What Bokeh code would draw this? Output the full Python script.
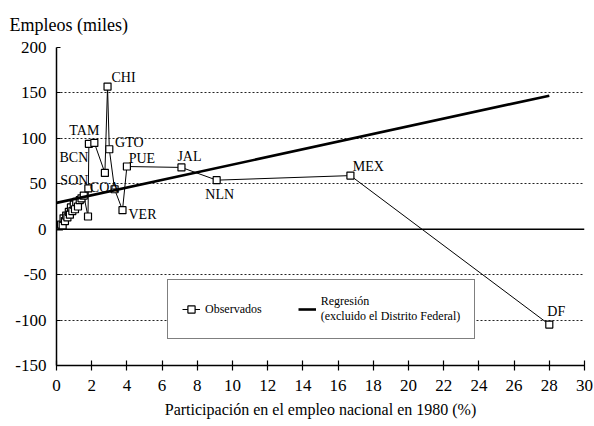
from bokeh.plotting import figure
from bokeh.models import (ColumnDataSource, Span, Legend, LegendItem, FixedTicker,
                          PrintfTickFormatter)
from bokeh.core.properties import value
from bokeh.embed import file_html
from bokeh.resources import INLINE

# ---- data ----
states = ["", "", "", "", "", "", "", "", "", "", "", "", "", "", "", "", "", "",
          "", "SON", "BCN", "TAM", "", "CHI", "GTO", "COA", "VER", "PUE", "JAL",
          "NLN", "MEX", "DF"]
share = [0.15, 0.25, 0.35, 0.40, 0.48, 0.55, 0.62, 0.70, 0.76, 0.82, 0.90, 0.98,
         1.05, 1.12, 1.22, 1.32, 1.42, 1.55,
         1.79, 1.81, 1.84, 2.15, 2.75, 2.90, 3.00, 3.30, 3.75, 4.00, 7.10,
         9.10, 16.70, 28.00]
jobs = [3, 5, 4, 12, 9, 15, 13, 19, 16, 24, 20, 27, 22, 30, 25, 32, 34, 37,
        14, 45, 94, 95, 62, 157, 88, 44, 21, 69, 68, 54, 59, -105]

reg_x = [0.0, 28.0]
reg_y = [29.0, 147.0]

x_ticks = list(range(0, 31, 2))
y_ticks = [-150, -100, -50, 0, 50, 100, 150, 200]

# label placement (screen px offsets), style only
label_offsets = {
    "CHI": (16, -9), "TAM": (-10, -12), "BCN": (-15, 14), "GTO": (20, -7),
    "SON": (-14, -8), "COA": (-10, -2), "VER": (20, 4), "PUE": (15, -8),
    "JAL": (8, -11), "NLN": (3, 14), "MEX": (18, -9), "DF": (7, -13),
}

SERIF = "Liberation Serif"

p = figure(width=594, height=426, x_range=(0, 30), y_range=(-150, 200),
           output_backend="svg", toolbar_location=None,
           min_border_left=56, min_border_right=10, min_border_top=47,
           min_border_bottom=61)
p.outline_line_color = None
p.background_fill_color = "white"
p.border_fill_color = "white"

# title
p.title.text = "Empleos (miles)"
p.title.text_font = SERIF
p.title.text_font_size = "18px"
p.title.text_font_style = "normal"
p.title.text_color = "black"
p.title.align = "left"
p.title.offset = -47
p.title.standoff = 25

# axes
p.xaxis.ticker = FixedTicker(ticks=x_ticks)
p.yaxis.ticker = FixedTicker(ticks=y_ticks)
p.yaxis.formatter = PrintfTickFormatter(format="%d")
for ax in (p.xaxis[0], p.yaxis[0]):
    ax.axis_line_width = 1.5
    ax.axis_line_color = "black"
    ax.major_tick_line_color = "black"
    ax.major_tick_line_width = 1.2
    ax.minor_tick_line_color = None
    ax.major_label_text_font = SERIF
    ax.major_label_text_font_size = "17px"
    ax.major_label_text_color = "black"
p.xaxis.major_tick_in = 5
p.xaxis.major_tick_out = 5
p.xaxis.major_label_standoff = 9
p.yaxis.major_tick_in = 4
p.yaxis.major_tick_out = 0
p.yaxis.major_label_standoff = 10
p.xaxis.axis_label = "Participación en el empleo nacional en 1980 (%)"
p.xaxis.axis_label_text_font = SERIF
p.xaxis.axis_label_text_font_size = "16px"
p.xaxis.axis_label_text_font_style = "normal"
p.xaxis.axis_label_text_color = "black"
p.xaxis.axis_label_standoff = 7

# grid
p.xgrid.grid_line_color = None
p.ygrid.grid_line_color = "#222222"
p.ygrid.grid_line_dash = "2 2"
p.ygrid.grid_line_width = 1

zero = Span(location=0, dimension="width", line_color="black", line_width=1.5)
p.add_layout(zero)

# data
src = ColumnDataSource(dict(x=share, y=jobs))
obs_line = p.line("x", "y", source=src, line_color="black", line_width=1)
obs_pts = p.scatter("x", "y", source=src, marker="square", size=7,
                    fill_color="white", line_color="black", line_width=1.2)
reg = p.line(reg_x, reg_y, line_color="black", line_width=2.6)

# labels
lx, ly, lt, dx, dy = [], [], [], [], []
for s, xv, yv in zip(states, share, jobs):
    if s:
        lx.append(xv); ly.append(yv); lt.append(s)
        o = label_offsets[s]
        dx.append(o[0]); dy.append(o[1])
lsrc = ColumnDataSource(dict(x=lx, y=ly, t=lt, dx=dx, dy=dy))
p.text("x", "y", text="t", source=lsrc, x_offset="dx", y_offset="dy",
       text_font=value(SERIF), text_font_size="14px", text_align="center",
       text_baseline="middle", text_color="black")

# legend
legend = Legend(items=[
    LegendItem(label="Observados", renderers=[obs_line, obs_pts]),
    LegendItem(label="Regresión\n(excluido el Distrito Federal)", renderers=[reg]),
], location=(111, 26), orientation="horizontal")
legend.label_text_font = SERIF
legend.label_text_font_size = "12px"
legend.label_text_color = "black"
legend.border_line_color = "black"
legend.border_line_width = 1.5
legend.background_fill_alpha = 1
legend.glyph_width = 18
legend.spacing = 36
legend.padding = 14
legend.margin = 0
p.add_layout(legend, "center")

open("out.html", "w").write(file_html(p, INLINE))
